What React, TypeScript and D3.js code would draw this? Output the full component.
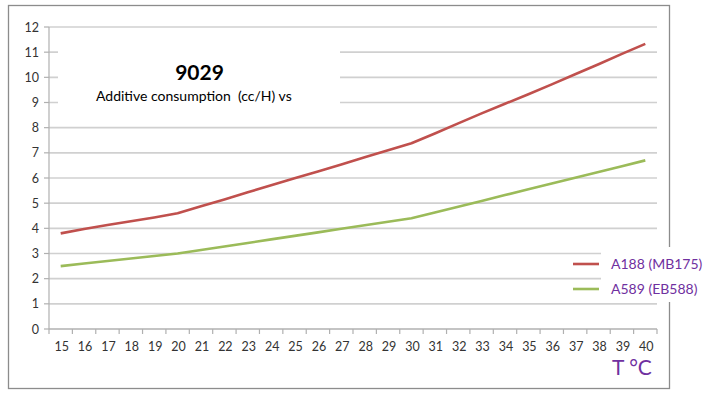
import React, { useEffect, useRef } from "react";
import * as d3 from "d3";

// temperatures (°C) on the x axis
const temps = [15, 16, 17, 18, 19, 20, 21, 22, 23, 24, 25, 26, 27, 28, 29, 30, 31, 32, 33, 34, 35, 36, 37, 38, 39, 40];

// A188 (MB175), cc/H
const a188 = [3.8, 3.97, 4.13, 4.28, 4.43, 4.6, 4.88, 5.15, 5.43, 5.71, 5.99, 6.26, 6.54, 6.82, 7.1, 7.38, 7.77, 8.17, 8.57, 8.95, 9.33, 9.72, 10.12, 10.52, 10.93, 11.33];

// A589 (EB588), cc/H
const a589 = [2.5, 2.6, 2.7, 2.8, 2.9, 3.0, 3.14, 3.28, 3.42, 3.56, 3.7, 3.84, 3.98, 4.12, 4.26, 4.4, 4.63, 4.86, 5.09, 5.32, 5.55, 5.78, 6.01, 6.24, 6.47, 6.7];

const yTicks = [0, 1, 2, 3, 4, 5, 6, 7, 8, 9, 10, 11, 12];

const seriesNames = ["A188 (MB175)", "A589 (EB588)"];
const seriesColors = ["#c0504d", "#9bbb59"];

const FONT = "Lato, 'Open Sans', sans-serif";

const App = () => {
  const ref = useRef<SVGSVGElement>(null);

  useEffect(() => {
    const width = 721;
    const height = 394;
    const margin = { top: 27, right: 64, bottom: 65, left: 49 };

    const svg = d3.select(ref.current);
    svg.selectAll("*").remove();

    const x = d3.scaleBand<number>()
      .domain(temps)
      .range([margin.left, width - margin.right])
      .paddingInner(0)
      .paddingOuter(0);

    const y = d3.scaleLinear()
      .domain([0, 12])
      .range([height - margin.bottom, margin.top]);

    // outer frame
    svg.append("rect")
      .attr("x", 8.5)
      .attr("y", 5.5)
      .attr("width", 661)
      .attr("height", 383)
      .attr("fill", "#fff")
      .attr("stroke", "#8c8c8c")
      .attr("stroke-width", 1.3);

    // grid
    svg.selectAll(".grid")
      .data(yTicks.filter(d => d > 0))
      .enter()
      .append("line")
      .attr("x1", margin.left)
      .attr("x2", width - margin.right)
      .attr("y1", d => y(d))
      .attr("y2", d => y(d))
      .attr("stroke", "#d0d0d0")
      .attr("stroke-width", 1.6);

    // y axis
    svg.append("line")
      .attr("x1", margin.left)
      .attr("x2", margin.left)
      .attr("y1", y(0))
      .attr("y2", y(12))
      .attr("stroke", "#b0b0b0")
      .attr("stroke-width", 1.2);

    svg.selectAll(".ytick")
      .data(yTicks)
      .enter()
      .append("line")
      .attr("x1", margin.left - 5)
      .attr("x2", margin.left)
      .attr("y1", d => y(d))
      .attr("y2", d => y(d))
      .attr("stroke", "#b0b0b0")
      .attr("stroke-width", 1.2);

    svg.selectAll(".ylabel")
      .data(yTicks)
      .enter()
      .append("text")
      .attr("x", margin.left - 10)
      .attr("y", d => y(d) + 4.5)
      .attr("text-anchor", "end")
      .attr("font-family", FONT)
      .attr("font-size", 12.5)
      .attr("fill", "#333")
      .text(d => d);

    // x axis
    svg.append("line")
      .attr("x1", margin.left)
      .attr("x2", width - margin.right)
      .attr("y1", y(0))
      .attr("y2", y(0))
      .attr("stroke", "#b0b0b0")
      .attr("stroke-width", 1.4);

    const bounds = temps.map(t => x(t) as number).concat([width - margin.right]);
    svg.selectAll(".xtick")
      .data(bounds)
      .enter()
      .append("line")
      .attr("x1", d => d)
      .attr("x2", d => d)
      .attr("y1", y(0))
      .attr("y2", y(0) + 5)
      .attr("stroke", "#b0b0b0")
      .attr("stroke-width", 1.2);

    svg.selectAll(".xlabel")
      .data(temps)
      .enter()
      .append("text")
      .attr("x", d => (x(d) as number) + x.bandwidth() / 2 + 1)
      .attr("y", y(0) + 22)
      .attr("text-anchor", "middle")
      .attr("font-family", FONT)
      .attr("font-size", 12.5)
      .attr("fill", "#333")
      .text(d => d);

    // lines
    const line = d3.line<number>()
      .x((_, i) => (x(temps[i]) as number) + x.bandwidth() / 2)
      .y(d => y(d));

    [a188, a589].forEach((s, i) => {
      svg.append("path")
        .datum(s)
        .attr("d", line)
        .attr("fill", "none")
        .attr("stroke", seriesColors[i])
        .attr("stroke-width", 2.6)
        .attr("stroke-linejoin", "round");
    });

    // title block (white box hides the grid behind it)
    svg.append("rect")
      .attr("x", 58)
      .attr("y", 42)
      .attr("width", 282)
      .attr("height", 72)
      .attr("fill", "#fff");

    svg.append("text")
      .attr("x", 199.5)
      .attr("y", 80)
      .attr("text-anchor", "middle")
      .attr("font-family", FONT)
      .attr("font-weight", "bold")
      .attr("font-size", 21)
      .attr("fill", "#000")
      .text("9029");

    svg.append("text")
      .attr("x", 96)
      .attr("y", 101)
      .attr("font-family", FONT)
      .attr("font-size", 14)
      .attr("fill", "#000")
      .attr("xml:space", "preserve")
      .style("white-space", "pre")
      .text("Additive consumption  (cc/H) vs");

    // legend
    svg.append("rect")
      .attr("x", 601)
      .attr("y", 247)
      .attr("width", 112)
      .attr("height", 55)
      .attr("fill", "#fff");

    seriesNames.forEach((name, i) => {
      const ly = 264 + i * 25;
      svg.append("line")
        .attr("x1", 573)
        .attr("x2", 599)
        .attr("y1", ly)
        .attr("y2", ly)
        .attr("stroke", seriesColors[i])
        .attr("stroke-width", 2.6);
      svg.append("text")
        .attr("x", 611)
        .attr("y", ly + 5)
        .attr("font-family", FONT)
        .attr("font-size", 14)
        .attr("fill", "#7030a0")
        .text(name);
    });

    // axis title
    svg.append("text")
      .attr("x", 612)
      .attr("y", 375)
      .attr("font-family", FONT)
      .attr("font-size", 21)
      .attr("fill", "#7030a0")
      .text("T °C");
  }, []);

  return (
    <svg
      ref={ref}
      width={721}
      height={394}
      style={{ position: "absolute", left: 0, top: 0, background: "#fff" }}
    />
  );
};

export default App;
